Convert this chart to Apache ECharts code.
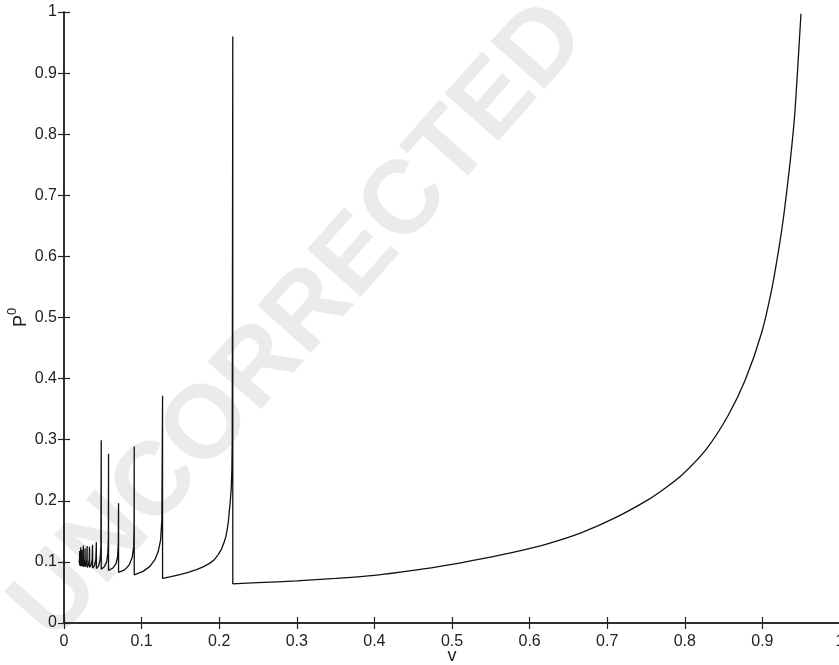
<!DOCTYPE html>
<html>
<head>
<meta charset="utf-8">
<script src="https://cdn.jsdelivr.net/npm/echarts@6/dist/echarts.min.js"></script>
<style>html,body{margin:0;padding:0;background:#fff}#c{width:839px;height:665px}</style>
</head>
<body>
<div id="c"></div>
<script>
// v values (x) and P0 values (y): saw-tooth part
const vSpiky = [
  0.0195,
  0.0200, 0.0202, 0.0202,
  0.0210, 0.0215, 0.0216, 0.0216,
  0.0225, 0.0230, 0.0231, 0.0231,
  0.0241, 0.0248, 0.0250, 0.0250,
  0.0262, 0.0270, 0.0272, 0.0272,
  0.0286, 0.0295, 0.0298, 0.0298,
  0.0315, 0.0325, 0.0329, 0.0329,
  0.0350, 0.0363, 0.0368, 0.0368,
  0.0393, 0.0410, 0.0417, 0.0417,
  0.0445, 0.0465, 0.0475, 0.0480, 0.0480,
  0.0520, 0.0550, 0.0565, 0.0572, 0.0574, 0.0574,
  0.0630, 0.0670, 0.0690, 0.0700, 0.0703, 0.0703,
  0.0780, 0.0840, 0.0880, 0.0898, 0.0903, 0.0905, 0.0905,
  0.1020, 0.1107, 0.1171, 0.1214, 0.1245, 0.1261, 0.1270, 0.1270,
  0.1380, 0.1493, 0.1600, 0.1708, 0.1800, 0.1880, 0.1940, 0.1987, 0.2030, 0.2060, 0.2085,
  0.2103, 0.2118, 0.2128, 0.2142, 0.2155, 0.2163, 0.2168, 0.2175, 0.2175
];
const pSpiky = [
  0.098,
  0.105, 0.118, 0.094,
  0.098, 0.108, 0.124, 0.093,
  0.097, 0.106, 0.120, 0.093,
  0.097, 0.106, 0.127, 0.092,
  0.096, 0.105, 0.122, 0.092,
  0.096, 0.105, 0.126, 0.091,
  0.095, 0.104, 0.125, 0.091,
  0.095, 0.104, 0.128, 0.090,
  0.094, 0.104, 0.132, 0.089,
  0.093, 0.103, 0.125, 0.299, 0.088,
  0.092, 0.100, 0.115, 0.140, 0.277, 0.086,
  0.090, 0.097, 0.108, 0.130, 0.196, 0.083,
  0.087, 0.095, 0.108, 0.125, 0.160, 0.289, 0.0786,
  0.0845, 0.0927, 0.1036, 0.117, 0.136, 0.169, 0.372, 0.073,
  0.0758, 0.079, 0.0828, 0.0872, 0.0922, 0.098, 0.104, 0.112, 0.121, 0.131, 0.141,
  0.153, 0.166, 0.180, 0.198, 0.220, 0.250, 0.300, 0.960, 0.064
];
// main branch after the last drop
const vMain = [
  0.2175, 0.25, 0.30, 0.35, 0.40, 0.45, 0.50, 0.536, 0.58, 0.624, 0.667, 0.71, 0.753, 0.775,
  0.797, 0.828, 0.856, 0.878, 0.899, 0.912, 0.921, 0.927, 0.934, 0.938, 0.942, 0.9497
];
const pMain = [
  0.064, 0.066, 0.069, 0.073, 0.078, 0.086, 0.096, 0.1045, 0.116, 0.130, 0.148, 0.172, 0.202, 0.221,
  0.243, 0.285, 0.340, 0.398, 0.475, 0.546, 0.611, 0.662, 0.735, 0.782, 0.838, 0.997
];
const xTickLabels = ['0','0.1','0.2','0.3','0.4','0.5','0.6','0.7','0.8','0.9','1'];
const yTickLabels = ['0','0.1','0.2','0.3','0.4','0.5','0.6','0.7','0.8','0.9','1'];

const spikyPts = vSpiky.map((v, i) => [v, pSpiky[i]]);
const mainPts = vMain.map((v, i) => [v, pMain[i]]);
const chart = echarts.init(document.getElementById('c'), null, {renderer: 'canvas'});
const font = 'Liberation Sans, Arial, Helvetica, sans-serif';
const axisLine = {show: true, lineStyle: {color: '#222', width: 1.5}};
const tick = {show: true, inside: true, length: 6, lineStyle: {color: '#222', width: 1.2}};
const fmtX = (val) => { const i = Math.round(val * 10); return xTickLabels[i] !== undefined ? xTickLabels[i] : ''; };
const fmtY = (val) => { const i = Math.round(val * 10); return yTickLabels[i] !== undefined ? yTickLabels[i] : ''; };
chart.setOption({
  animation: false,
  backgroundColor: '#fff',
  graphic: [{
    type: 'text', silent: true, z: -10,
    x: 300, y: 322, rotation: 48.5 * Math.PI / 180,
    style: {text: 'UNCORRECTED', font: 'bold 104px Liberation Sans, Arial, sans-serif', fill: '#ebebeb', align: 'center', verticalAlign: 'middle'}
  }],
  grid: {left: 64, top: 12, width: 776, height: 611, containLabel: false, outerBoundsMode: 'none'},
  xAxis: [
    {type: 'value', min: 0, max: 1, interval: 0.1, position: 'bottom',
     axisLine, axisTick: tick, splitLine: {show: false},
     axisLabel: {show: true, formatter: fmtX, color: '#222', fontSize: 16, fontFamily: font, margin: 11},
     name: 'v', nameLocation: 'middle', nameGap: 24, nameMoveOverlap: false,
     nameTextStyle: {color: '#222', fontSize: 18, fontFamily: font}},
    {type: 'value', min: 0, max: 1, interval: 0.1, position: 'top',
     axisLine, axisTick: tick, splitLine: {show: false}, axisLabel: {show: false}}
  ],
  yAxis: [
    {type: 'value', min: 0, max: 1, interval: 0.1, position: 'left',
     axisLine, axisTick: tick, splitLine: {show: false},
     axisLabel: {show: true, formatter: fmtY, color: '#222', fontSize: 16, fontFamily: font, margin: 7},
     name: '{b|P}{s|0}', nameLocation: 'middle', nameGap: 34, nameRotate: 90, nameMoveOverlap: false,
     nameTextStyle: {color: '#222', fontFamily: font,
       rich: {b: {fontSize: 18, lineHeight: 24, fontFamily: font, color: '#222', verticalAlign: 'bottom'},
              s: {fontSize: 13, lineHeight: 24, fontFamily: font, color: '#222', verticalAlign: 'top'}}}},
    {type: 'value', min: 0, max: 1, interval: 0.1, position: 'right',
     axisLine, axisTick: tick, splitLine: {show: false}, axisLabel: {show: false}}
  ],
  series: [
    {type: 'line', xAxisIndex: 0, yAxisIndex: 0, data: spikyPts,
     showSymbol: false, symbol: 'none', smooth: false,
     lineStyle: {color: '#111', width: 1.3}, z: 5},
    {type: 'line', xAxisIndex: 0, yAxisIndex: 0, data: mainPts,
     showSymbol: false, symbol: 'none', smooth: 0.3,
     lineStyle: {color: '#111', width: 1.3}, z: 5}
  ]
});
</script>
</body>
</html>
